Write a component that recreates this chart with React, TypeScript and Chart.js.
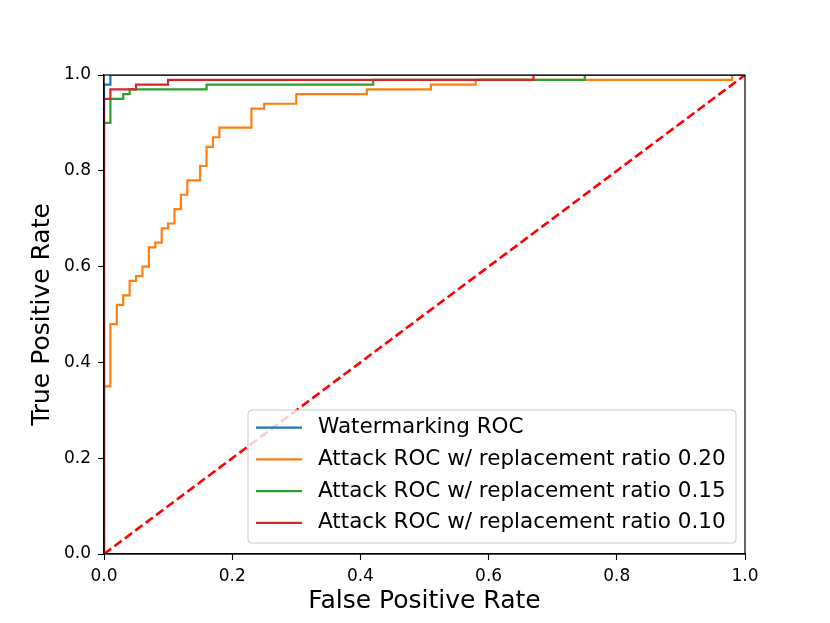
import React, { useEffect, useRef } from "react";
import { Chart, registerables } from "chart.js";

Chart.register(...registerables);

// ROC corner points (fpr, tpr)
const watermarkFpr = [0, 0, 0.01, 1.0];
const watermarkTpr = [0, 0.98, 1.0, 1.0];

const attack20Fpr = [0, 0, 0.01, 0.02, 0.03, 0.04, 0.05, 0.06, 0.07, 0.08, 0.09, 0.10, 0.11, 0.12, 0.13, 0.15, 0.16, 0.17, 0.18, 0.23, 0.25, 0.30, 0.41, 0.51, 0.58, 0.98, 1.0];
const attack20Tpr = [0, 0.35, 0.48, 0.52, 0.54, 0.57, 0.58, 0.60, 0.64, 0.65, 0.68, 0.69, 0.72, 0.75, 0.78, 0.81, 0.85, 0.87, 0.89, 0.93, 0.94, 0.96, 0.97, 0.98, 0.99, 1.0, 1.0];

const attack15Fpr = [0, 0, 0.01, 0.03, 0.04, 0.16, 0.42, 0.75, 1.0];
const attack15Tpr = [0, 0.90, 0.95, 0.96, 0.97, 0.98, 0.99, 1.0, 1.0];

const attack10Fpr = [0, 0, 0.01, 0.05, 0.10, 0.67, 1.0];
const attack10Tpr = [0, 0.95, 0.97, 0.98, 0.99, 1.0, 1.0];

const diagonalX = [0, 1];
const diagonalY = [0, 1];

const seriesLabels = [
  "Watermarking ROC",
  "Attack ROC w/ replacement ratio 0.20",
  "Attack ROC w/ replacement ratio 0.15",
  "Attack ROC w/ replacement ratio 0.10",
];
const seriesColors = ["#1f77b4", "#ff7f0e", "#2ca02c", "#d62728"];

const xAxisTitle = "False Positive Rate";
const yAxisTitle = "True Positive Rate";
const axisMin = 0;
const axisMax = 1;
const tickStep = 0.2;

const FONT = "'DejaVu Sans', 'Liberation Sans', sans-serif";

const zip = (xs: number[], ys: number[]) => xs.map((x, i) => ({ x, y: ys[i] }));

const framePlugin = {
  id: "frameAndLegend",
  afterDatasetsDraw(chart: any) {
    const { ctx, chartArea } = chart;
    ctx.save();
    ctx.strokeStyle = "#000";
    ctx.lineWidth = 1.2;
    ctx.strokeRect(chartArea.left, chartArea.top, chartArea.right - chartArea.left, chartArea.bottom - chartArea.top);

    // legend
    const bx = 248, by = 410, bw = 488, bh = 133, r = 4;
    ctx.beginPath();
    ctx.moveTo(bx + r, by);
    ctx.lineTo(bx + bw - r, by);
    ctx.quadraticCurveTo(bx + bw, by, bx + bw, by + r);
    ctx.lineTo(bx + bw, by + bh - r);
    ctx.quadraticCurveTo(bx + bw, by + bh, bx + bw - r, by + bh);
    ctx.lineTo(bx + r, by + bh);
    ctx.quadraticCurveTo(bx, by + bh, bx, by + bh - r);
    ctx.lineTo(bx, by + r);
    ctx.quadraticCurveTo(bx, by, bx + r, by);
    ctx.closePath();
    ctx.fillStyle = "rgba(255,255,255,0.8)";
    ctx.fill();
    ctx.strokeStyle = "#cccccc";
    ctx.lineWidth = 1;
    ctx.stroke();

    const items = chart.data.datasets.filter((d: any) => d.showInLegend);
    const rowY0 = 427.7, rowStep = 31.7;
    ctx.font = `21.5px ${FONT}`;
    ctx.textBaseline = "middle";
    ctx.textAlign = "left";
    items.forEach((d: any, i: number) => {
      const y = rowY0 + i * rowStep;
      ctx.strokeStyle = d.borderColor;
      ctx.lineWidth = 2.2;
      ctx.beginPath();
      ctx.moveTo(256, y);
      ctx.lineTo(302, y);
      ctx.stroke();
      ctx.fillStyle = "#000";
      ctx.fillText(d.label, 318, y);
    });
    ctx.restore();
  },
};

export default function App() {
  const ref = useRef<HTMLCanvasElement | null>(null);

  useEffect(() => {
    if (!ref.current) return;
    const curves = [
      [watermarkFpr, watermarkTpr],
      [attack20Fpr, attack20Tpr],
      [attack15Fpr, attack15Tpr],
      [attack10Fpr, attack10Tpr],
    ];
    const datasets: any[] = curves.map(([xs, ys], i) => ({
      label: seriesLabels[i],
      data: zip(xs, ys),
      borderColor: seriesColors[i],
      backgroundColor: seriesColors[i],
      borderWidth: 2.2,
      pointRadius: 0,
      stepped: "before",
      fill: false,
      clip: 0,
      showInLegend: true,
      order: 10 - i,
    }));
    datasets.push({
      label: "diagonal",
      data: zip(diagonalX, diagonalY),
      borderColor: "#ff0000",
      borderWidth: 2.6,
      borderDash: [9, 4],
      pointRadius: 0,
      fill: false,
      clip: 0,
      showInLegend: false,
      order: 0,
    });

    const tickFont = { family: FONT, size: 17 };
    const titleFont = { family: FONT, size: 25, lineHeight: 1.2 };

    const chart = new Chart(ref.current, {
      type: "line",
      data: { datasets },
      options: {
        animation: false,
        responsive: false,
        devicePixelRatio: 1,
        parsing: false,
        layout: { padding: { left: 0, top: 75, right: 85, bottom: 0 } },
        plugins: { legend: { display: false }, tooltip: { enabled: false } },
        scales: {
          x: {
            type: "linear",
            min: axisMin,
            max: axisMax,
            ticks: {
              stepSize: tickStep,
              color: "#000",
              font: tickFont,
              padding: 6,
              maxRotation: 0,
              callback: (v: any) => Number(v).toFixed(1),
            },
            grid: { display: true, drawOnChartArea: false, drawTicks: true, tickLength: 6, tickColor: "#000", tickWidth: 1.1 },
            border: { display: true, color: "#000", width: 1.2 },
            title: { display: true, text: xAxisTitle, color: "#000", font: titleFont, padding: { top: 0, bottom: 7 } },
            afterFit: (s: any) => { s.height = 69; },
          },
          y: {
            type: "linear",
            min: axisMin,
            max: axisMax,
            ticks: {
              stepSize: tickStep,
              color: "#000",
              font: tickFont,
              padding: 7,
              callback: (v: any) => Number(v).toFixed(1),
            },
            grid: { display: true, drawOnChartArea: false, drawTicks: true, tickLength: 6, tickColor: "#000", tickWidth: 1.1 },
            border: { display: true, color: "#000", width: 1.2 },
            title: { display: true, text: yAxisTitle, color: "#000", font: titleFont, padding: { top: 27, bottom: 0 } },
            afterFit: (s: any) => { s.width = 104; },
          },
        },
      } as any,
      plugins: [framePlugin],
    });
    return () => chart.destroy();
  }, []);

  return (
    <div style={{ position: "absolute", left: 0, top: 0, width: 830, height: 623, background: "#fff" }}>
      <canvas ref={ref} width={830} height={623} style={{ width: 830, height: 623, display: "block" }} />
    </div>
  );
}
